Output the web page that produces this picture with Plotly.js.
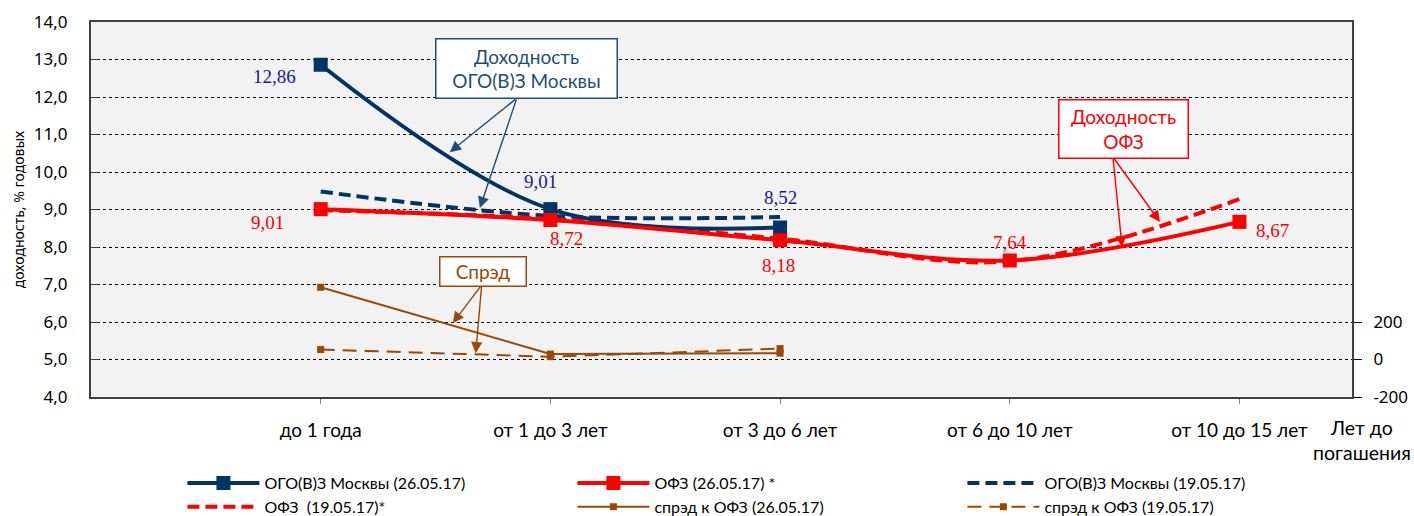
<!DOCTYPE html>
<html><head><meta charset="utf-8">
<script src="https://cdn.plot.ly/plotly-3.0.1.min.js"></script>
<style>body{margin:0;padding:0;background:#fff}#chart{width:1414px;height:516px}</style>
</head><body><div id="chart"></div>
<script>
const categories = ['до 1 года', 'от 1 до 3 лет', 'от 3 до 6 лет', 'от 6 до 10 лет', 'от 10 до 15 лет'];
const ogo260517 = [12.86, 9.01, 8.52];
const ofz260517 = [9.01, 8.72, 8.18, 7.64, 8.67];
const ogo190517 = [9.48, 8.83, 8.80];
const ofz190517 = [8.98, 8.75, 8.22, 7.62, 9.28];
const spread260517 = [385, 29, 34];
const spread190517 = [53, 15, 58];

const NAVY = '#003366', RED = '#FF0000', BROWN = '#984807', LBL = '#1a1a8c';
const cal = 'Lato, Noto Sans, sans-serif';
const sans = 'Noto Sans, Open Sans, sans-serif';

const traces = [
  {name:'ОГО(В)З Москвы (26.05.17)', x:categories.slice(0,3), y:ogo260517, mode:'lines+markers',
   line:{color:NAVY,width:4,shape:'spline'}, marker:{symbol:'square',size:14,color:NAVY}},
  {name:'ОФЗ (26.05.17) *', x:categories, y:ofz260517, mode:'lines+markers',
   line:{color:RED,width:4,shape:'spline'}, marker:{symbol:'square',size:14,color:RED}},
  {name:'ОГО(В)З Москвы (19.05.17)', x:categories.slice(0,3), y:ogo190517, mode:'lines',
   line:{color:NAVY,width:4,shape:'spline',dash:'12px,6px'}},
  {name:'ОФЗ  (19.05.17)*', x:categories, y:ofz190517, mode:'lines',
   line:{color:RED,width:4,shape:'spline',dash:'12px,6px'}},
  {name:'спрэд к ОФЗ (26.05.17)', x:categories.slice(0,3), y:spread260517, yaxis:'y2', mode:'lines+markers',
   line:{color:BROWN,width:2}, marker:{symbol:'square',size:7,color:BROWN}},
  {name:'спрэд к ОФЗ (19.05.17)', x:categories.slice(0,3), y:spread190517, yaxis:'y2', mode:'lines+markers',
   line:{color:BROWN,width:2,dash:'14px,8px'}, marker:{symbol:'square',size:7,color:BROWN}}
];
const data = [traces[2], traces[3], traces[4], traces[5], traces[0], traces[1]];
data.forEach((t,i)=>{t.legendrank = [3,4,5,6,1,2][i];});

const fmt = v => v.toFixed(2).replace('.', ',');
const ogoShift = [[-46,-12],[-10,28],[0,30]];
const ofzShift = [[-53,-13],[16,-18],[-2,-25],[0,18],[33,-9]];
const annotations = [];
ogo260517.forEach((v,i)=>annotations.push({x:categories[i], y:v, text:fmt(v), showarrow:false,
  xshift:ogoShift[i][0], yshift:ogoShift[i][1], font:{family:'Liberation Serif, serif', size:19, color:LBL}}));
ofz260517.forEach((v,i)=>annotations.push({x:categories[i], y:v, text:fmt(v), showarrow:false,
  xshift:ofzShift[i][0], yshift:ofzShift[i][1], font:{family:'Liberation Serif, serif', size:19, color:RED}}));

function box(x,y,w,h,text,color){
  annotations.push({x:x,y:y,xref:'x',yref:'y',text:text,showarrow:false,width:w,height:h,
    bgcolor:'#fff',bordercolor:color,borderwidth:1.5,borderpad:2,font:{family:cal,size:19,color:color}});
}
function arrow(tx,ty,hx,hy,color){
  annotations.push({x:hx,y:hy,ax:tx,ay:ty,xref:'x',yref:'y',axref:'x',ayref:'y',text:'',showarrow:true,
    arrowhead:2,arrowsize:1.6,arrowwidth:1.4,arrowcolor:color,standoff:0,startstandoff:0});
}
const BOXNAVY = '#1F4E79';
arrow(0.854,11.97,0.562,10.53,BOXNAVY);
arrow(0.854,11.97,0.693,9.04,BOXNAVY);
box(0.895,12.77,176,54,'Доходность<br>ОГО(В)З Москвы',BOXNAVY);
arrow(3.449,10.4,3.654,8.67,RED);
arrow(3.449,10.4,3.489,8.0,RED);
box(3.497,11.16,124,53,'Доходность<br>ОФЗ',RED);
arrow(0.701,6.99,0.575,5.97,BROWN);
arrow(0.701,6.99,0.675,5.17,BROWN);
box(0.708,7.36,81,24,'Спрэд',BROWN);
annotations.push({xref:'paper',yref:'paper',x:1.0079,y:-0.045,xanchor:'center',yanchor:'top',showarrow:false,
  text:'Лет до<br>погашения',font:{family:cal,size:19.5,color:'#000'}});

const layout = {
  width:1414,height:516,separators:', ',
  margin:{l:91,r:62,t:22,b:119,autoexpand:false},
  paper_bgcolor:'#fff',plot_bgcolor:'#F2F2F2',
  font:{family:sans,color:'#000'},
  xaxis:{type:'category',categoryorder:'array',categoryarray:categories,range:[-1,4.49],
    showline:true,linecolor:'#404040',linewidth:2,mirror:true,ticks:'outside',ticklen:5,tickcolor:'#808080',
    ticklabelstandoff:10,showgrid:false,zeroline:false,tickfont:{family:cal,size:19},automargin:false},
  yaxis:{range:[4,14],dtick:1,tick0:4,tickformat:'.1f',showline:true,linecolor:'#404040',linewidth:2,
    showgrid:true,gridcolor:'#000',griddash:'dot',gridwidth:1,zeroline:false,ticks:'inside',ticklen:8,tickcolor:'#404040',
    ticklabelstandoff:18,tickfont:{family:sans,size:17},automargin:false,
    title:{text:'доходность, % годовых',font:{family:sans,size:14},standoff:6}},
  yaxis2:{overlaying:'y',side:'right',range:[-200,1800],tickvals:[-200,0,200],ticktext:['-200','0','200'],
    showline:true,linecolor:'#404040',linewidth:2,ticks:'outside',ticklen:8,tickcolor:'#000',ticklabelstandoff:8,
    showgrid:false,zeroline:false,tickfont:{family:sans,size:17},automargin:false},
  showlegend:true,
  legend:{orientation:'h',xref:'container',yref:'container',x:0.129,xanchor:'left',y:0.0969,yanchor:'top',
    entrywidth:303,entrywidthmode:'pixels',itemwidth:72,font:{family:cal,size:16},traceorder:'normal'},
  annotations:annotations
};
Plotly.newPlot('chart', data, layout, {staticPlot:true});
</script></body></html>
